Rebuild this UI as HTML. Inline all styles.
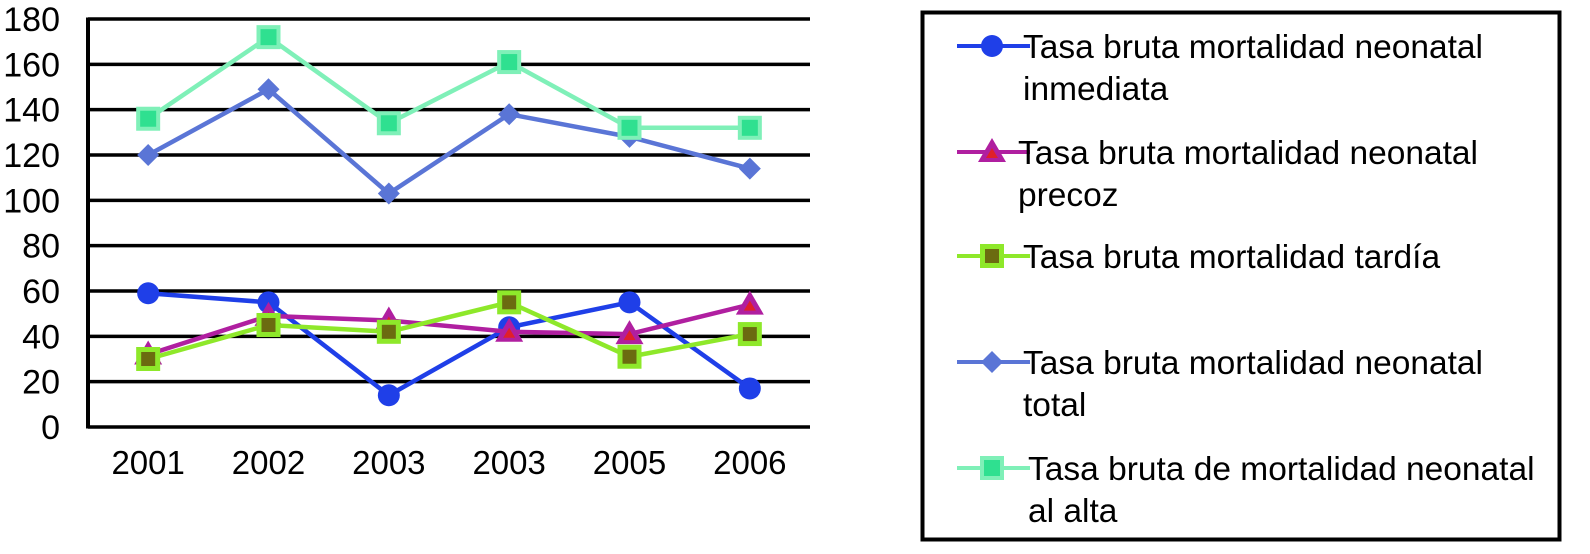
<!DOCTYPE html>
<html><head><meta charset="utf-8"><style>
body{margin:0;background:#fff;width:1590px;height:549px;overflow:hidden;font-family:"Liberation Sans",sans-serif}
</style></head><body>
<svg id="chart" width="1590" height="549" xmlns="http://www.w3.org/2000/svg"></svg>
<script>
const categories=["2001","2002","2003","2003","2005","2006"];
const yTicks=[0,20,40,60,80,100,120,140,160,180];
const sInmediata=[59,55,14,44,55,17];
const sPrecoz=[32,49,47,42,41,54];
const sTardia=[30,45,42,55,31,41];
const sTotal=[120,149,103,138,128,114];
const sAlta=[136,172,134,161,132,132];
const labels=[["Tasa bruta mortalidad neonatal","inmediata"],["Tasa bruta mortalidad neonatal","precoz"],["Tasa bruta mortalidad tardía"],["Tasa bruta mortalidad neonatal","total"],["Tasa bruta de mortalidad neonatal","al alta"]];

const NS="http://www.w3.org/2000/svg";
const svg=document.getElementById('chart');
const x0=88,x1=810,yBase=427,yTop=19;
function yS(v){return yBase-(v/180)*(yBase-yTop);}
function xS(i){return x0+(x1-x0)/categories.length*(i+0.5);}
function el(t,a,p){const e=document.createElementNS(NS,t);for(const k in a)e.setAttribute(k,a[k]);(p||svg).appendChild(e);return e;}

yTicks.forEach(v=>{
  const l=el('line',{x1:x0,x2:x1,y1:yS(v),y2:yS(v),stroke:'#000','stroke-width':3.5});
  
  
  const t=el('text',{x:60,y:yS(v)+12,'text-anchor':'end','font-size':34,fill:'#000'});
  t.textContent=v;
  
  
});
const ax=el('line',{x1:x0,x2:x0,y1:yTop-1.5,y2:yBase+1.5,stroke:'#000','stroke-width':4});


categories.forEach((c,i)=>{
  const t=el('text',{x:xS(i),y:474,'text-anchor':'middle','font-size':33,fill:'#000'});
  t.textContent=c;
  
  
});

function marker(type,x,y,g){
  if(type==='circle'){el('circle',{cx:x,cy:y,r:11,fill:'#1f3fe8'},g);}
  else if(type==='tri'){el('polygon',{points:`${x},${y-14} ${x-14},${y+10} ${x+14},${y+10}`,fill:'#b01fa0'},g);el('polygon',{points:`${x},${y-4} ${x-6},${y+6} ${x+6},${y+6}`,fill:'#e0202a'},g);}
  else if(type==='sqL'){el('rect',{x:x-12,y:y-12,width:24,height:24,fill:'#8ee82a'},g);el('rect',{x:x-7,y:y-7,width:14,height:14,fill:'#6b6b10'},g);}
  else if(type==='dia'){el('polygon',{points:`${x},${y-11} ${x+11},${y} ${x},${y+11} ${x-11},${y}`,fill:'#5a75d6'},g);}
  else if(type==='sqA'){el('rect',{x:x-12,y:y-12,width:24,height:24,fill:'#7ff0b8'},g);el('rect',{x:x-8,y:y-8,width:16,height:16,fill:'#2fe090'},g);}
}
const series=[
 {d:sInmediata,c:'#1f3fe8',m:'circle',n:'inmediata'},
 {d:sPrecoz,c:'#b01fa0',m:'tri',n:'precoz'},
 {d:sTardia,c:'#8ee82a',m:'sqL',n:'tardia'},
 {d:sTotal,c:'#5a75d6',m:'dia',n:'total'},
 {d:sAlta,c:'#7ff0b8',m:'sqA',n:'alta'}];
series.forEach(s=>{
  const g=el('g',{});
  
  
  el('polyline',{points:s.d.map((v,i)=>xS(i)+','+yS(v)).join(' '),fill:'none',stroke:s.c,'stroke-width':4.5},g);
  s.d.forEach((v,i)=>marker(s.m,xS(i),yS(v),g));
});

// legend
const lg=el('g',{});


el('rect',{x:922.5,y:12.5,width:637,height:527,fill:'none',stroke:'#000','stroke-width':4},lg);
const legY=[46,152,256,362,468];
const legTx=[1023,1018,1023,1023,1028];
series.forEach((s,i)=>{
  const g=el('g',{},lg);
  
  
  el('line',{x1:957,x2:1030,y1:legY[i],y2:legY[i],stroke:s.c,'stroke-width':4},g);
  marker(s.m,992,legY[i],g);
  labels[i].forEach((ln,j)=>{
    const t=el('text',{x:legTx[i],y:legY[i]+12+j*42,'font-size':33.5,fill:'#000'},g);
    t.textContent=ln;
  });
});
</script>
</body></html>
